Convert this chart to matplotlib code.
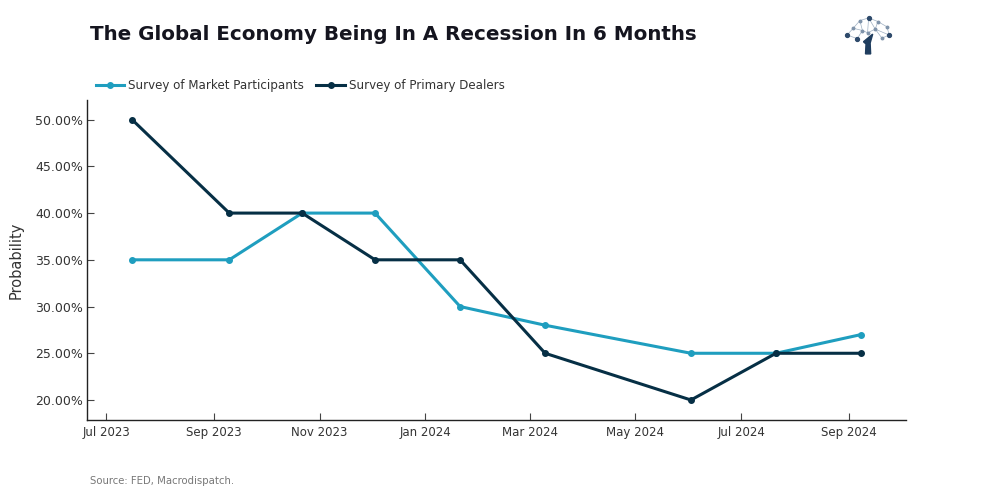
import matplotlib
matplotlib.use("Agg")
import matplotlib.pyplot as plt
import matplotlib.dates as mdates
from matplotlib.ticker import FuncFormatter
import pandas as pd

# --- data ---
survey_dates = ["2023-07-16", "2023-09-10", "2023-10-22", "2023-12-03", "2024-01-21",
                "2024-03-10", "2024-06-02", "2024-07-21", "2024-09-08"]
market_participants = [35, 35, 40, 40, 30, 28, 25, 25, 27]
primary_dealers = [50, 40, 40, 35, 35, 25, 20, 25, 25]
yticks = [20, 25, 30, 35, 40, 45, 50]

dates = pd.to_datetime(survey_dates)

light = "#1f9ebf"
dark = "#062f45"

plt.rcParams["font.family"] = ["DejaVu Sans"]

fig = plt.figure(figsize=(9.87, 5.0), dpi=100)
ax = fig.add_axes([0.0881, 0.16, 0.830, 0.64])

l1, = ax.plot(dates, market_participants, "-o", color=light, lw=2.2, ms=4,
              label="Survey of Market Participants")
l2, = ax.plot(dates, primary_dealers, "-o", color=dark, lw=2.2, ms=4,
              label="Survey of Primary Dealers")

ax.set_xlim(pd.Timestamp("2023-06-20"), pd.Timestamp("2024-10-04"))
ax.set_ylim(17.86, 52.1)
ax.set_yticks(yticks)
ax.yaxis.set_major_formatter(FuncFormatter(lambda v, p: f"{v:.2f}%"))
ax.xaxis.set_major_locator(mdates.MonthLocator(bymonth=[1, 3, 5, 7, 9, 11]))
ax.xaxis.set_major_formatter(mdates.DateFormatter("%b %Y"))

for s in ["top", "right"]:
    ax.spines[s].set_visible(False)
for s in ["left", "bottom"]:
    ax.spines[s].set_linewidth(1.0)
    ax.spines[s].set_color("#222222")
ax.tick_params(axis="both", colors="#444444", labelcolor="#333333",
               length=5, width=0.8, direction="in")
ax.tick_params(axis="y", labelsize=9, pad=3)
ax.tick_params(axis="x", labelsize=8.5, pad=4.5)
ax.set_ylabel("Probability", fontsize=10.5, color="#333333", labelpad=8)

fig.text(0.091, 0.93, "The Global Economy Being In A Recession In 6 Months",
         fontsize=14.3, fontweight="bold", color="#15151f", va="center")

fig.legend(handles=[l1, l2], loc="center left", bbox_to_anchor=(0.086, 0.829),
           ncol=2, frameon=False, fontsize=8.6, handlelength=2.4, handletextpad=0.35,
           columnspacing=1.0, labelcolor="#333333")

fig.text(0.091, 0.038, "Source: FED, Macrodispatch.", fontsize=7.3, color="#777777",
         va="center")

# --- small tree logo ---
lg = fig.add_axes([0.853, 0.885, 0.052, 0.09])
lg.set_xlim(0, 10)
lg.set_ylim(0, 10)
lg.axis("off")
nodes = [(1, 5), (2.2, 6.5), (3.5, 8.2), (5.2, 8.8), (7, 8.0), (8.8, 6.8), (9.2, 5.0),
         (6.5, 6.3), (4, 6.0), (3, 4.2), (7.8, 4.3), (5.0, 5.5)]
edges = [(0, 1), (1, 2), (2, 3), (3, 4), (4, 5), (5, 6), (1, 8), (2, 8), (3, 7), (4, 7),
         (7, 6), (8, 11), (11, 7), (0, 9), (9, 8), (7, 10), (10, 6), (3, 11)]
for a, b in edges:
    lg.plot([nodes[a][0], nodes[b][0]], [nodes[a][1], nodes[b][1]], color="#9fb0c2", lw=0.5)
for i, (x, y) in enumerate(nodes):
    lg.plot(x, y, "o", color="#2e4a6b" if i % 3 == 0 else "#7f93aa", ms=2.8 if i % 3 == 0 else 1.8)
lg.fill([4.6, 5.6, 5.5, 6.0, 4.2, 4.7], [0.8, 0.8, 3.2, 5.2, 3.5, 3.0], color="#1f3d5e")

fig.savefig("out.png", dpi=100)
